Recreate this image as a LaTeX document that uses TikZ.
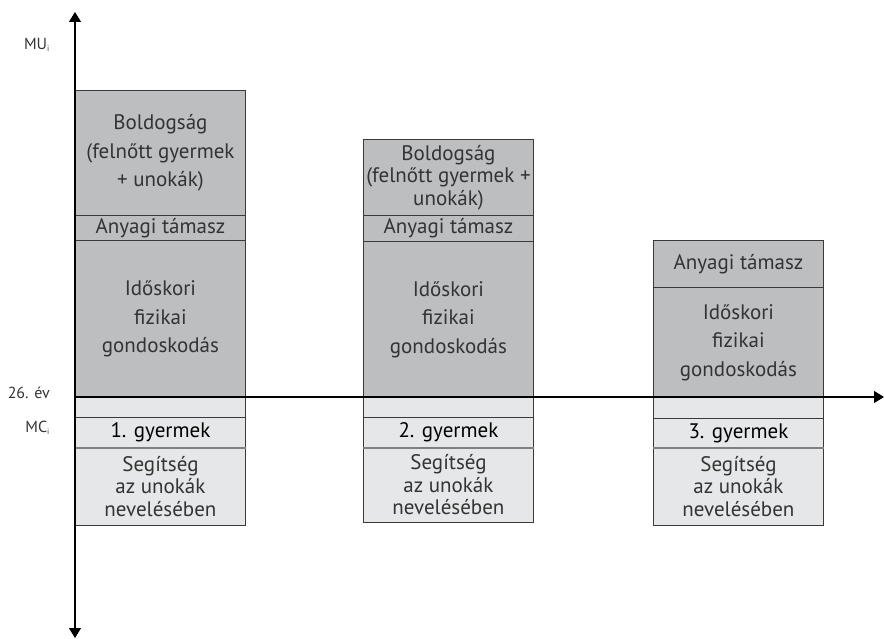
\documentclass[tikz,border=0pt]{standalone}
\usepackage{fontspec}
\setmainfont{PT Sans}
\usetikzlibrary{arrows.meta}
\definecolor{darkfill}{HTML}{BDBEC0}
\definecolor{lightfill}{HTML}{E6E7E8}
\definecolor{txt}{HTML}{333333}
\definecolor{edge}{HTML}{3A3A3A}
\begin{document}
\begin{tikzpicture}[x=1pt,y=-1pt,
  sect/.style={draw=edge, line width=0.9pt, minimum width=170pt, inner sep=0pt,
    anchor=north west, align=center, text=txt},
  dk/.style={sect, fill=darkfill},
  lt/.style={sect, fill=lightfill},
  big/.style={font=\fontsize{21}{28.5}\selectfont},
  small/.style={font=\fontsize{21}{22.5}\selectfont},
  axis/.style={line width=1.1pt, black, -{Triangle[length=10pt,width=12pt]}},
  lab/.style={anchor=east, text=txt, font=\fontsize{16}{18}\selectfont, inner sep=0pt}]
\useasboundingbox (0,0) rectangle (884,639);
% box 1
\node[dk,big, minimum height=125pt] (b1h) at (75,90) {Boldogság\\(felnőtt gyermek\\+ unokák)};
\node[dk,big, minimum height=25pt] (b1a) at (75,215) {Anyagi támasz};
\node[dk,big, minimum height=157pt] (b1i) at (75,240) {Időskori\\fizikai\\gondoskodás};
\node[lt, minimum height=20pt] (b1e) at (75,397) {};
\node[lt,big, minimum height=30pt] (b1g) at (75,417) {\color{black}1. gyermek};
\node[lt,small, minimum height=78pt] (b1s) at (75,447) {Segítség\\az unokák\\nevelésében};
% box 2
\node[dk,small, minimum height=76pt] (b2h) at (363,139) {Boldogság\\(felnőtt gyermek +\\unokák)};
\node[dk,big, minimum height=26pt] (b2a) at (363,215) {Anyagi támasz};
\node[dk,big, minimum height=156pt] (b2i) at (363,241) {Időskori\\fizikai\\gondoskodás};
\node[lt, minimum height=20pt] (b2e) at (363,397) {};
\node[lt,big, minimum height=30pt] (b2g) at (363,417) {\color{black}2. gyermek};
\node[lt,small, minimum height=75pt] (b2s) at (363,447) {Segítség\\az unokák\\nevelésében};
% box 3
\node[dk,big, minimum height=47pt] (b3a) at (653,240) {Anyagi támasz};
\node[dk,big, minimum height=110pt] (b3i) at (653,287) {Időskori\\fizikai\\gondoskodás};
\node[lt, minimum height=21pt] (b3e) at (653,397) {};
\node[lt,big, minimum height=29pt] (b3g) at (653,418) {\color{black}3. gyermek};
\node[lt,small, minimum height=78pt] (b3s) at (653,447) {Segítség\\az unokák\\nevelésében};
% gray separators under the child rows
\foreach \n in {b1g,b2g,b3g}{
  \draw[line width=1.6pt, black!50] (\n.south west) -- (\n.south east);
}
% axes
\coordinate (o) at (75,397);
\coordinate (top) at (75,12);
\coordinate (bot) at (75,638);
\coordinate (right) at (884,397);
\draw[axis] (o) -- (top);
\draw[axis] (o) -- (bot);
\draw[axis] (o) -- (right);
% labels
\node[lab] (mu) at (50,45) {MU\textsubscript{\fontsize{8}{9}\selectfont i}};
\node[lab] (ev) at (50,393) {26. év};
\node[lab] (mc) at (50,428) {MC\textsubscript{\fontsize{8}{9}\selectfont i}};
\end{tikzpicture}
\end{document}
